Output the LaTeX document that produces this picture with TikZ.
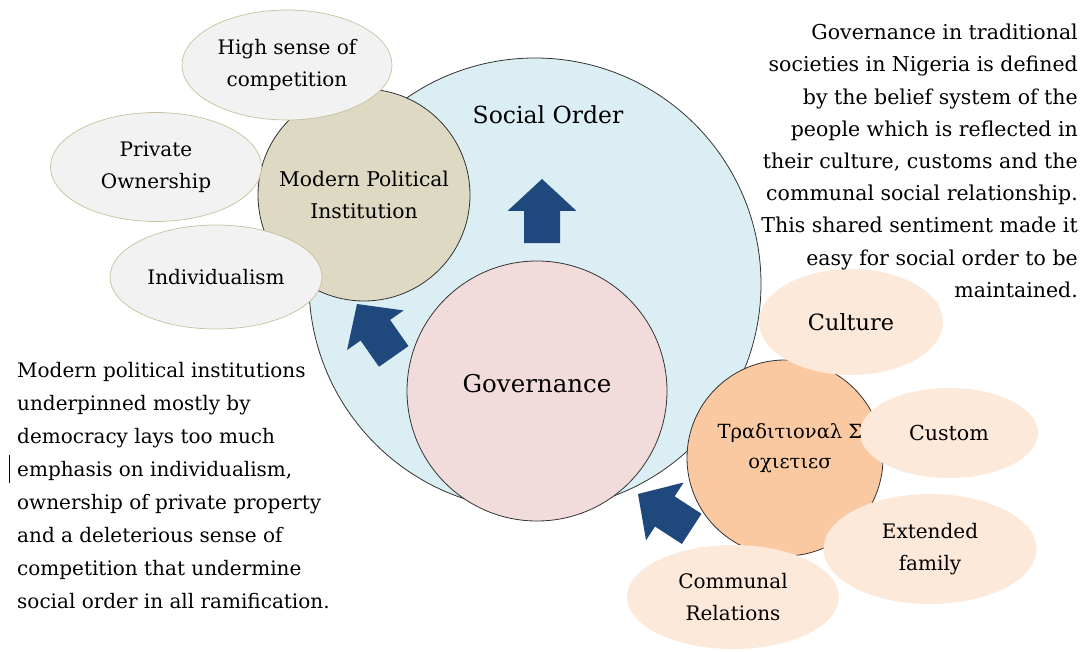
\documentclass[tikz,border=0pt]{standalone}
\usepackage{fontspec}
\setmainfont{DejaVu Serif}
\usetikzlibrary{shapes.geometric}
\definecolor{orderblue}{HTML}{DAEEF3}
\definecolor{modernbrown}{HTML}{DDD9C3}
\definecolor{govpink}{HTML}{F2DCDB}
\definecolor{tradorange}{HTML}{FAC9A2}
\definecolor{lightpeach}{HTML}{FDE9D9}
\definecolor{lightgrey}{HTML}{F2F2F2}
\definecolor{greyrim}{HTML}{C8C09C}
\definecolor{arrowblue}{HTML}{1F497D}
\tikzset{every node/.style={inner sep=0pt},
bigcircle/.style={ % Sets the properties for the four main circles
circle,
draw=black!80,
line width=0.8pt},
modernleaf/.style={ % Grey ellipses round the modern institution
ellipse,
fill=lightgrey,
draw=greyrim,
line width=0.7pt,
align=center,
font=\fontsize{20}{32}\selectfont},
tradleaf/.style={ % Peach ellipses round the traditional societies
ellipse,
fill=lightpeach,
align=center,
font=\fontsize{20}{32}\selectfont},
blockarrow/.pic={ % Thick blue arrow, origin at its tip
\fill[arrowblue] (0,0) -- (-32,34.5) -- (-32,18) -- (-64,18)
  -- (-64,-18) -- (-32,-18) -- (-32,-34.5) -- cycle;},
sidetext/.style={font=\fontsize{20}{33}\selectfont}}

\begin{document}
\begin{tikzpicture}[x=1pt, y=-1pt]
\useasboundingbox (0,0) rectangle (1083,652);

% social order
\node[bigcircle, fill=orderblue, minimum size=452pt] (order) at (535,284) {};
\node[font=\fontsize{23.5}{26}\selectfont] (ordertext) at (548,115) {Social Order};
\pic[rotate=90] (uparrow) at (542,179) {blockarrow};

% modern side
\node[bigcircle, fill=modernbrown, minimum size=212pt, align=center,
  font=\fontsize{20.3}{32}\selectfont] (modern) at (364,195) {Modern Political\\Institution};
\node[modernleaf, minimum width=210pt, minimum height=110pt] (compete) at (287,65) {High sense of\\competition};
\node[modernleaf, minimum width=211pt, minimum height=109pt] (private) at (156,167) {Private\\Ownership};
\node[modernleaf, minimum width=212pt, minimum height=104pt] (individual) at (216,277) {Individualism};

% governance
\node[bigcircle, fill=govpink, minimum size=260pt] (gov) at (537,391) {};
\node[font=\fontsize{24.5}{28}\selectfont] (govtext) at (537,384) {Governance};
\pic[rotate=125] (leftarrow) at (357,304) {blockarrow};

% traditional side
\node[bigcircle, fill=tradorange, minimum size=196pt] (trad) at (785,458) {};
\node[tradleaf, minimum width=184pt, minimum height=106pt] (culture) at (851,322) {\fontsize{22.4}{32}\selectfont Culture};
\node[tradleaf, minimum width=178pt, minimum height=90pt] (custom) at (949,433) {\fontsize{20.6}{32}\selectfont Custom};
\node[tradleaf, minimum width=213pt, minimum height=110pt] (family) at (930,549) {Extended\\family};
\node[tradleaf, minimum width=212pt, minimum height=104pt] (communal) at (733,597) {Communal\\Relations};
\node[align=center, font=\fontsize{19.5}{30}\selectfont] (tradtext) at (790,448) {Τραδιτιοναλ Σ\\οχιετιεσ};
\pic[rotate=147] (lowarrow) at (638,494) {blockarrow};

% side notes
\node[sidetext, align=left, anchor=north west] (modernnote) at (17,362)
  {Modern political institutions\\underpinned mostly by\\democracy lays too much\\emphasis on individualism,\\ownership of private property\\and a deleterious sense of\\competition that undermine\\social order in all ramification.};
\node[sidetext, font=\fontsize{20.5}{32.2}\selectfont, align=right, anchor=north east] (tradnote) at (1078,24)
  {Governance in traditional\\societies in Nigeria is defined\\by the belief system of the\\people which is reflected in\\their culture, customs and the\\communal social relationship.\\This shared sentiment made it\\easy for social order to be\\maintained.};
\coordinate (bartop) at (9,455);
\coordinate (barbottom) at (9,483);
\draw[line width=0.8pt] (bartop) -- (barbottom);
\end{tikzpicture}
\end{document}
